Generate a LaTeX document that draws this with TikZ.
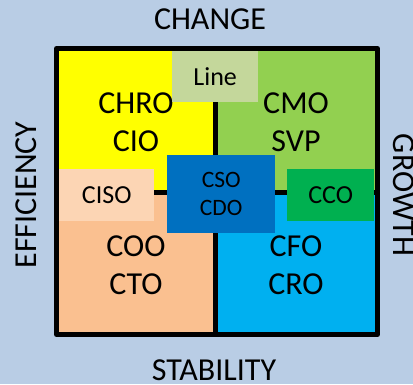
\documentclass[tikz,border=0pt]{standalone}
\usepackage{fontspec}
\setmainfont{Carlito}
\definecolor{bg}{HTML}{B9CDE5}
\definecolor{qyellow}{HTML}{FFFF00}
\definecolor{qgreen}{HTML}{92D050}
\definecolor{qpeach}{HTML}{FAC090}
\definecolor{qblue}{HTML}{00B0F0}
\definecolor{linebox}{HTML}{C4D79B}
\definecolor{cisobox}{HTML}{FCD5B4}
\definecolor{csobox}{HTML}{0070C0}
\definecolor{ccobox}{HTML}{00B050}
\tikzset{
  axislabel/.style={font=\fontsize{32}{36}\selectfont, inner sep=0pt},
  quadtext/.style={font=\fontsize{32}{38}\selectfont, align=center, inner sep=0pt},
  rolebox/.style={inner sep=0pt, anchor=north west, font=\fontsize{26}{30}\selectfont},
  divider/.style={line width=5pt},
}
\begin{document}
\begin{tikzpicture}[x=1pt,y=-1pt]
\useasboundingbox (0,0) rectangle (413,384);
\fill[bg] (0,0) rectangle (413,384);
% quadrants
\fill[qyellow] (56.5,48.5) rectangle (215.5,192.5);
\fill[qgreen] (215.5,48.5) rectangle (377.5,192.5);
\fill[qpeach] (56.5,192.5) rectangle (215.5,334.5);
\fill[qblue] (215.5,192.5) rectangle (377.5,334.5);
\coordinate (vtop) at (215.5,48.5);
\coordinate (vbot) at (215.5,334.5);
\coordinate (hleft) at (56.5,192.5);
\coordinate (hright) at (377.5,192.5);
\draw[divider] (vtop) -- (vbot);
\draw[divider] (hleft) -- (hright);
% quadrant texts
\node[quadtext] (tl) at (136,122) {CHRO\\CIO};
\node[quadtext] (tr) at (296,122) {CMO\\SVP};
\node[quadtext] (bl) at (136,265) {COO\\CTO};
\node[quadtext] (br) at (296,265) {CFO\\CRO};
% role boxes
\node[rolebox, fill=linebox, minimum width=86pt, minimum height=51pt] (line) at (172,51) {Line};
\node[rolebox, fill=cisobox, minimum width=95pt, minimum height=52pt] (ciso) at (59,169) {CISO};
\node[rolebox, fill=ccobox, minimum width=87pt, minimum height=52pt] (cco) at (287,169) {CCO};
\node[rolebox, fill=csobox, minimum width=108pt, minimum height=78pt, align=center, font=\fontsize{23.5}{28}\selectfont] (cso) at (167,155) {CSO\\CDO};
% frame
\draw[line width=5pt, line join=round] (56.5,48.5) rectangle (377.5,334.5);
% axis labels
\node[axislabel, anchor=base] (change) at (210,29) {CHANGE};
\node[axislabel, anchor=base] (stability) at (214,380) {STABILITY};
\node[axislabel, anchor=base, rotate=90] (efficiency) at (36,195) {EFFICIENCY};
\node[axislabel, anchor=base, rotate=-90] (growth) at (393,195) {GROWTH};
\end{tikzpicture}
\end{document}
